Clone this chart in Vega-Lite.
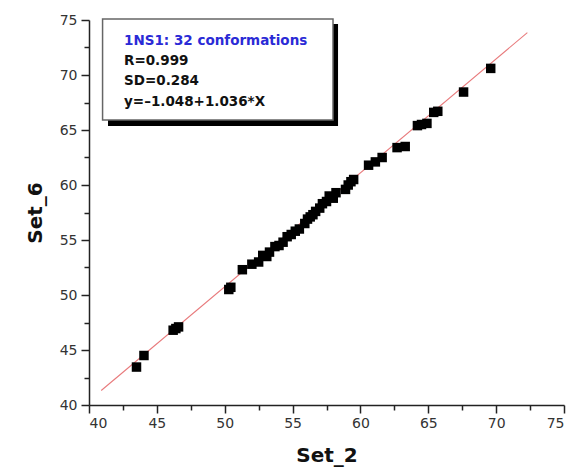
{
  "$schema": "https://vega.github.io/schema/vega-lite/v6.json",
  "width": 475,
  "height": 385,
  "autosize": "none",
  "padding": {"left": 89, "top": 20, "right": 11, "bottom": 69},
  "background": "white",
  "config": {
    "view": {"stroke": null},
    "axis": {
      "labelFont": "DejaVu Sans",
      "titleFont": "DejaVu Sans",
      "grid": false,
      "domainColor": "#222",
      "tickColor": "#222",
      "labelColor": "#333",
      "labelFontSize": 14,
      "titleFontSize": 20,
      "titleFontWeight": "bold",
      "titleColor": "#111",
      "domainWidth": 1.5,
      "tickWidth": 1.5
    }
  },
  "datasets": {
    "pts": [
      {"set2": 43.5, "set6": 43.45},
      {"set2": 44.05, "set6": 44.5},
      {"set2": 46.2, "set6": 46.8},
      {"set2": 46.4, "set6": 46.95},
      {"set2": 46.6, "set6": 47.1},
      {"set2": 50.3, "set6": 50.5},
      {"set2": 50.45, "set6": 50.7},
      {"set2": 51.3, "set6": 52.3},
      {"set2": 52.0, "set6": 52.8},
      {"set2": 52.5, "set6": 53.0},
      {"set2": 52.8, "set6": 53.6},
      {"set2": 53.1, "set6": 53.5},
      {"set2": 53.3, "set6": 53.9},
      {"set2": 53.7, "set6": 54.4},
      {"set2": 54.0, "set6": 54.5},
      {"set2": 54.3, "set6": 54.8},
      {"set2": 54.6, "set6": 55.3},
      {"set2": 54.9, "set6": 55.5},
      {"set2": 55.2, "set6": 55.8},
      {"set2": 55.5, "set6": 56.0},
      {"set2": 55.9, "set6": 56.5},
      {"set2": 56.1, "set6": 56.9},
      {"set2": 56.3, "set6": 57.1},
      {"set2": 56.5, "set6": 57.3},
      {"set2": 56.7, "set6": 57.6},
      {"set2": 57.0, "set6": 57.9},
      {"set2": 57.2, "set6": 58.3},
      {"set2": 57.5, "set6": 58.5},
      {"set2": 57.7, "set6": 59.0},
      {"set2": 58.0, "set6": 58.8},
      {"set2": 58.2, "set6": 59.3},
      {"set2": 58.9, "set6": 59.6},
      {"set2": 59.1, "set6": 60.0},
      {"set2": 59.3, "set6": 60.3},
      {"set2": 59.5, "set6": 60.5},
      {"set2": 60.6, "set6": 61.8},
      {"set2": 61.1, "set6": 62.1},
      {"set2": 61.6, "set6": 62.5},
      {"set2": 62.7, "set6": 63.4},
      {"set2": 63.3, "set6": 63.5},
      {"set2": 64.2, "set6": 65.4},
      {"set2": 64.5, "set6": 65.5},
      {"set2": 64.9, "set6": 65.6},
      {"set2": 65.4, "set6": 66.6},
      {"set2": 65.7, "set6": 66.7},
      {"set2": 67.6, "set6": 68.45},
      {"set2": 69.6, "set6": 70.6}
    ],
    "fit": [
      {"set2": 40.9, "set6": 41.32},
      {"set2": 72.3, "set6": 73.85}
    ],
    "box": [
      {"x1": 41.0, "x2": 57.98, "y1": 75.09, "y2": 65.9}
    ],
    "shadow": [
      {"x1": 41.4, "x2": 58.35, "y1": 74.64, "y2": 65.36}
    ]
  },
  "resolve": {"axis": {"x": "independent", "y": "independent"}},
  "layer": [
    {
      "data": {"name": "fit"},
      "mark": {"type": "line", "color": "#e87a7c", "strokeWidth": 1.1},
      "encoding": {
        "x": {"field": "set2", "type": "quantitative",
              "scale": {"domain": [40, 75], "nice": false, "zero": false},
              "axis": {"orient": "bottom", "values": [42.5, 47.5, 52.5, 57.5, 62.5, 67.5, 72.5], "labels": false, "domain": false, "tickSize": 5, "title": null}},
        "y": {"field": "set6", "type": "quantitative",
              "scale": {"domain": [40, 75], "nice": false, "zero": false},
              "axis": {"orient": "left", "values": [42.5, 47.5, 52.5, 57.5, 62.5, 67.5, 72.5], "labels": false, "domain": false, "tickSize": 5, "title": null}}
      }
    },
    {
      "data": {"name": "pts"},
      "mark": {"type": "point", "shape": "square", "filled": true, "color": "#000", "opacity": 1, "size": 90},
      "encoding": {
        "x": {"field": "set2", "type": "quantitative",
              "axis": {"orient": "bottom", "title": "Set_2", "values": [40, 45, 50, 55, 60, 65, 70, 75], "tickSize": 8, "labelPadding": 3, "titlePadding": 15}},
        "y": {"field": "set6", "type": "quantitative",
              "axis": {"orient": "left", "title": "Set_6", "values": [40, 45, 50, 55, 60, 65, 70, 75], "tickSize": 8, "labelPadding": 4, "titlePadding": 14}}
      }
    },
    {
      "data": {"name": "shadow"},
      "mark": {"type": "rect", "color": "#000"},
      "encoding": {
        "x": {"field": "x1", "type": "quantitative", "axis": null},
        "x2": {"field": "x2"},
        "y": {"field": "y1", "type": "quantitative", "axis": null},
        "y2": {"field": "y2"}
      }
    },
    {
      "data": {"name": "box"},
      "mark": {"type": "rect", "fill": "white", "stroke": "#666", "strokeWidth": 1.5},
      "encoding": {
        "x": {"field": "x1", "type": "quantitative", "axis": null},
        "x2": {"field": "x2"},
        "y": {"field": "y1", "type": "quantitative", "axis": null},
        "y2": {"field": "y2"}
      }
    },
    {
      "data": {"values": [{}]},
      "mark": {"type": "text", "text": "1NS1: 32 conformations", "font": "DejaVu Sans", "fontSize": 13.5, "fontWeight": "bold", "color": "#2a2ad6", "align": "left", "baseline": "alphabetic"},
      "encoding": {
        "x": {"datum": 42.58, "type": "quantitative", "axis": null},
        "y": {"datum": 72.73, "type": "quantitative", "axis": null}
      }
    },
    {
      "data": {"values": [{}]},
      "mark": {"type": "text", "text": ["R=0.999", "SD=0.284", "y=–1.048+1.036*X"], "lineHeight": 20.5, "font": "DejaVu Sans", "fontSize": 13.5, "fontWeight": "bold", "color": "#111", "align": "left", "baseline": "alphabetic"},
      "encoding": {
        "x": {"datum": 42.58, "type": "quantitative", "axis": null},
        "y": {"datum": 70.91, "type": "quantitative", "axis": null}
      }
    }
  ]
}
